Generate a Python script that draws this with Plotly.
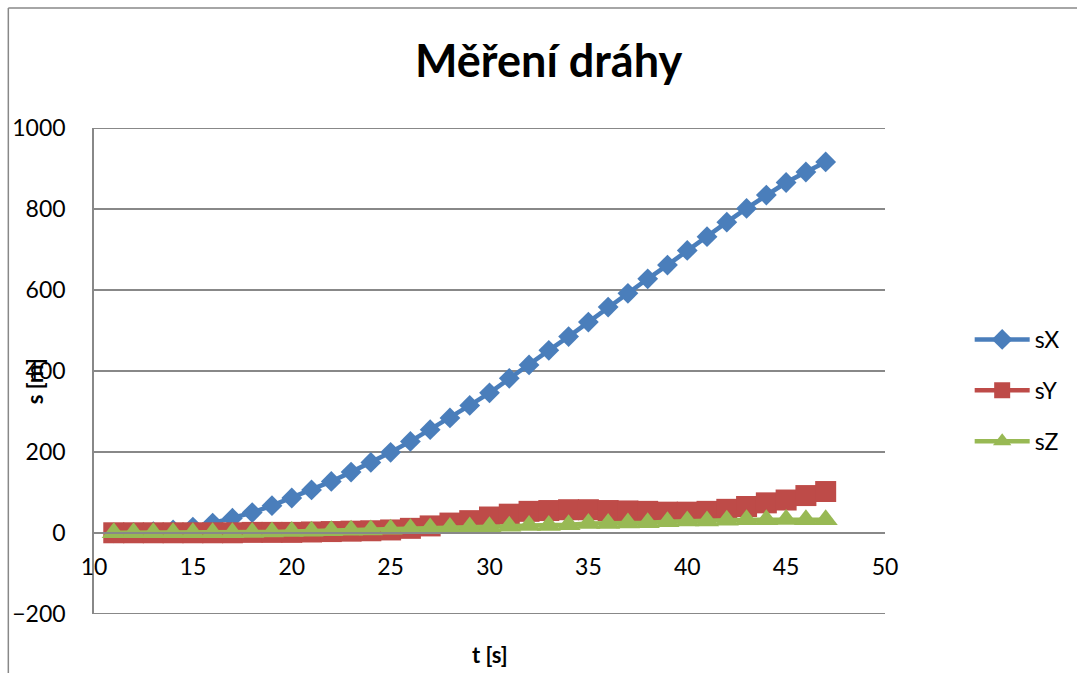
import plotly.graph_objects as go

t = list(range(11, 48))
sX = [0, 1, 3, 7, 14, 24, 36, 50, 67, 86, 106, 127, 150, 174, 199, 226, 255, 284, 315, 346,
      382, 415, 451, 485, 521, 558, 592, 628, 662, 698, 732, 768, 802, 835, 866, 892, 917]
sY = [0, 0, 0, 0, 0, 0, 0, 1, 1, 1, 2, 3, 4, 5, 7, 11, 17, 24, 30, 39,
      46, 53, 55, 57, 57, 55, 54, 53, 51, 51, 53, 58, 65, 74, 81, 92, 102]
sZ = [0, 0, 0, 0, 0, 0, 0, 1, 2, 3, 4, 5, 6, 7, 9, 10, 12, 13, 14, 15,
      16, 18, 18, 20, 23, 23, 24, 25, 27, 29, 29, 31, 32, 32, 33, 32, 32]
y_edges = [-200, 1000]

series = [
    ("sX", sX, "#4A7EBB", "diamond", 16),
    ("sY", sY, "#BE4B48", "square", 21),
    ("sZ", sZ, "#98B954", "triangle-up", 21),
]

FONT = "Lato"
W, H = 1077, 673
L, R, T, B = 91, 885, 128, 614
YMIN, YMAX = -200.8, 1000.8


def px(x):
    return (x - L) / (R - L)


def py(y):
    return (B - y) / (B - T)


fig = go.Figure()
for name, vals, col, sym, size in series:
    fig.add_trace(go.Scatter(
        x=t, y=vals, name=name, mode="lines+markers", legendgroup=name,
        line=dict(color=col, width=4.5),
        marker=dict(symbol=sym, size=size, color=col, line=dict(width=0)),
    ))

shapes = [
    dict(type="line", xref="paper", yref="paper", x0=px(5), x1=px(1080), y0=py(8), y1=py(8),
         line=dict(color="#888888", width=1.5)),
    dict(type="line", xref="paper", yref="paper", x0=px(5), x1=px(5), y0=py(8), y1=py(680),
         line=dict(color="#888888", width=1.5)),
]
for yv in y_edges:
    shapes.append(dict(type="line", xref="paper", yref="y", x0=0, x1=1, y0=yv, y1=yv,
                       line=dict(color="#888888", width=1.5), layer="below"))

fig.update_layout(
    width=W, height=H,
    margin=dict(l=L, r=W - R, t=T, b=H - B),
    paper_bgcolor="white", plot_bgcolor="white",
    font=dict(family=FONT, size=23, color="black"),
    showlegend=True,
    legend=dict(x=px(970), y=py(318), xanchor="left", yanchor="top",
                tracegroupgap=18, itemwidth=55, font=dict(size=23, family=FONT),
                bgcolor="rgba(0,0,0,0)"),
    xaxis=dict(range=[10, 50], dtick=5, tick0=10, showgrid=False, zeroline=False,
               anchor="free", position=(0 - YMIN) / (YMAX - YMIN), showline=True,
               linecolor="#888888", linewidth=1.5, ticks="", ticklabelstandoff=14,
               tickfont=dict(size=23, family=FONT)),
    yaxis=dict(range=[YMIN, YMAX], dtick=200, tick0=0, showgrid=True, gridcolor="#888888",
               gridwidth=1.5, zeroline=False, showline=True, linecolor="#888888",
               linewidth=1.5, ticks="", ticklabelstandoff=22,
               tickfont=dict(size=23, family=FONT)),
    annotations=[
        dict(text="<b>Měření dráhy</b>", x=px(547), y=py(60), xref="paper", yref="paper",
             showarrow=False, font=dict(size=45, family=FONT), xanchor="center", yanchor="middle"),
        dict(text="<b>s [m]</b>", x=px(31), y=py(381), xref="paper", yref="paper",
             showarrow=False, textangle=-90, font=dict(size=22, family=FONT),
             xanchor="center", yanchor="middle"),
        dict(text="<b>t [s]</b>", x=px(488), y=py(654), xref="paper", yref="paper",
             showarrow=False, font=dict(size=22, family=FONT), xanchor="center", yanchor="middle"),
    ],
    shapes=shapes,
)

fig.write_html("out.html", config={"displayModeBar": False},
               post_script="document.body.style.margin='0';document.body.style.overflow='hidden';")
